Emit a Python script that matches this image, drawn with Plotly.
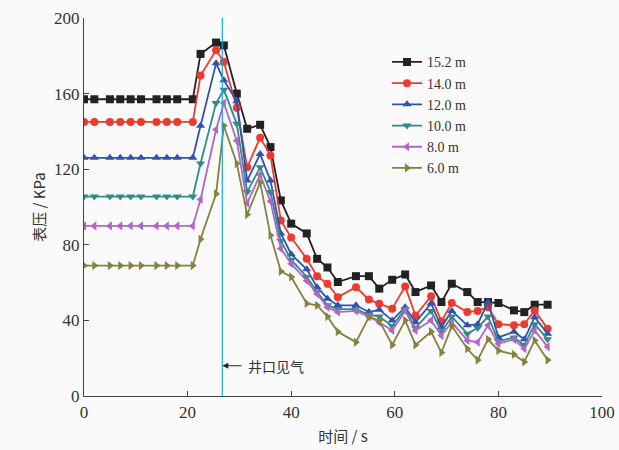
import plotly.graph_objects as go

time_s = [0, 2, 5, 7, 9, 11, 14, 16, 18, 21, 22.5, 25.5, 27, 29.5, 31.5, 34, 36, 38, 40, 43,
          45, 47, 49, 52.5, 55, 57, 59.5, 62, 64, 67, 69, 71, 74, 76, 78, 80, 83, 85, 87, 89.5]

p_15_2 = [157, 157, 157, 157, 157, 157, 157, 157, 157, 157, 181, 187, 185.5, 160, 141.4, 143.5, 131.7, 103.5, 91.2, 86,
          72.6, 68, 60.3, 63.4, 63.4, 56.8, 61.5, 64.3, 55, 58.5, 49.7, 59.4, 55, 49.7, 49.7, 49.2, 45.3, 44.4, 48.3, 48.3]
p_14_0 = [145, 145, 145, 145, 145, 145, 145, 145, 145, 145, 169.6, 183, 176.7, 152.5, 121, 136.7, 127.3, 92.9, 83.8, 72.6,
          63.3, 59.4, 52.3, 57.6, 51, 48.8, 46.2, 58, 42.6, 52.8, 39.5, 49.2, 44.4, 45, 47, 38, 37.4, 38, 45.3, 35.6]
p_12_0 = [126, 126, 126, 126, 126, 126, 126, 126, 126, 126, 143, 176, 167, 156, 114, 128, 114, 86, 75, 67,
          57.6, 51.5, 48, 48, 44.4, 45.7, 40, 47, 39, 49, 36.5, 45, 37.4, 38, 49.7, 31, 34, 30, 41.7, 33]
p_10_0 = [105.5, 105.5, 105.5, 105.5, 105.5, 105.5, 105.5, 105.5, 105.5, 105.5, 123, 155, 162, 144, 108, 121, 108, 82, 72, 63,
          55, 48, 46, 46, 43, 42, 37, 46, 36, 45, 34, 42, 33, 36, 42, 29, 31, 27, 38, 30]
p_8_0 = [90, 90, 90, 90, 90, 90, 90, 90, 90, 90, 104, 141, 155, 135, 102, 117, 103, 78, 70, 61,
         54, 47, 44.4, 45, 42, 39, 34.7, 45, 34.7, 40, 32, 39, 29.4, 28.5, 37.4, 27.7, 30, 25, 34.7, 26]
p_6_0 = [69, 69, 69, 69, 69, 69, 69, 69, 69, 69, 83, 107, 143, 123, 96, 113, 85, 66, 63, 49,
         48, 42, 34, 28.5, 41.7, 40, 27, 40, 27, 34, 23, 37, 25, 19, 30, 24, 22, 18, 29.4, 19]

series_names = ["15.2 m", "14.0 m", "12.0 m", "10.0 m", "8.0 m", "6.0 m"]
series_vals = [p_15_2, p_14_0, p_12_0, p_10_0, p_8_0, p_6_0]
colors = ["#222222", "#ec3b2e", "#3152b0", "#2f8a88", "#b066c4", "#858240"]
symbols = ["square", "circle", "triangle-up", "triangle-down", "triangle-left", "triangle-right"]

gas_time = 26.7
x_ticks = [0, 20, 40, 60, 80, 100]
y_ticks = [0, 40, 80, 120, 160, 200]

fig = go.Figure()
for name, vals, c, s in zip(series_names, series_vals, colors, symbols):
    fig.add_trace(go.Scatter(
        x=time_s, y=vals, name=name, mode="lines+markers",
        line=dict(color=c, width=1.8),
        marker=dict(symbol=s, size=8, color=c),
    ))

fig.add_shape(type="line", x0=gas_time, x1=gas_time, y0=0, y1=1, yref="paper",
              line=dict(color="#1aa7d9", width=1.2))
fig.add_annotation(x=gas_time, y=16, ax=gas_time + 4, ay=16, axref="x", ayref="y",
                   showarrow=True, arrowhead=2, arrowsize=1, arrowwidth=1.2, arrowcolor="#222",
                   text="")
fig.add_annotation(x=gas_time + 4.5, y=16, xanchor="left", showarrow=False,
                   text="井口见气", font=dict(family="Noto Sans CJK SC", size=14, color="#333"))

fig.update_layout(
    width=619, height=450,
    margin=dict(l=84, r=17, t=18, b=54, autoexpand=False),
    paper_bgcolor="#fafafa", plot_bgcolor="#fafafa",
    font=dict(family="Liberation Serif", size=17, color="#333"),
    legend=dict(x=0.585, y=0.925, xanchor="left", yanchor="top",
                bgcolor="rgba(0,0,0,0)", tracegroupgap=0,
                font=dict(family="Liberation Serif", size=14, color="#333"),
                itemwidth=30),
    showlegend=True,
)
fig.update_xaxes(range=[0, 100], tickvals=x_ticks, ticks="inside", ticklen=5, automargin=False,
                 showline=True, linecolor="#444", linewidth=1.2, showgrid=False, zeroline=False,
                 title=dict(text="时间 / s", font=dict(family="Noto Sans CJK SC", size=15, color="#333"),
                            standoff=10))
fig.update_yaxes(range=[0, 200], tickvals=y_ticks, ticks="inside", ticklen=5, automargin=False,
                 showline=True, linecolor="#444", linewidth=1.2, showgrid=False, zeroline=False,
                 title=dict(text="表压 / KPa", font=dict(family="Noto Sans CJK SC", size=15, color="#333"),
                            standoff=4))

fig.write_html("out.html")
